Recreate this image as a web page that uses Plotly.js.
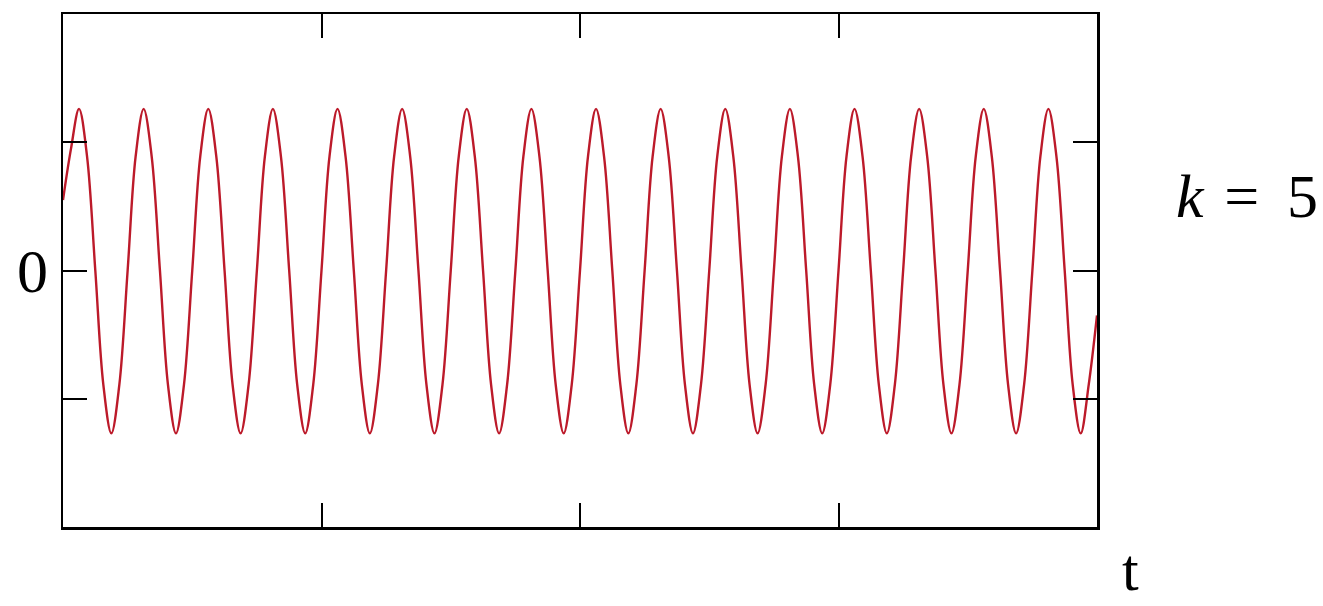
<!DOCTYPE html>
<html>
<head>
<meta charset="utf-8">
<script src="https://cdn.plot.ly/plotly-3.0.1.min.js"></script>
<style>html,body{margin:0;padding:0;background:#fff;}#chart{width:1323px;height:606px;}</style>
</head>
<body>
<div id="chart"></div>
<script>
// t samples (period ~0.25, peaks near t = 0.062 + 0.25k)
var tValues = [
  0.000, 0.031,
  0.062, 0.093, 0.125, 0.156, 0.187, 0.218, 0.250, 0.281,
  0.312, 0.343, 0.375, 0.406, 0.437, 0.468, 0.500, 0.531,
  0.562, 0.593, 0.625, 0.656, 0.687, 0.718, 0.750, 0.781,
  0.812, 0.843, 0.875, 0.906, 0.937, 0.968, 1.000, 1.031,
  1.062, 1.093, 1.125, 1.156, 1.187, 1.218, 1.250, 1.281,
  1.312, 1.343, 1.375, 1.406, 1.437, 1.468, 1.500, 1.531,
  1.562, 1.593, 1.625, 1.656, 1.687, 1.718, 1.750, 1.781,
  1.812, 1.843, 1.875, 1.906, 1.937, 1.968, 2.000, 2.031,
  2.062, 2.093, 2.125, 2.156, 2.187, 2.218, 2.250, 2.281,
  2.312, 2.343, 2.375, 2.406, 2.437, 2.468, 2.500, 2.531,
  2.562, 2.593, 2.625, 2.656, 2.687, 2.718, 2.750, 2.781,
  2.812, 2.843, 2.875, 2.906, 2.937, 2.968, 3.000, 3.031,
  3.062, 3.093, 3.125, 3.156, 3.187, 3.218, 3.250, 3.281,
  3.312, 3.343, 3.375, 3.406, 3.437, 3.468, 3.500, 3.531,
  3.562, 3.593, 3.625, 3.656, 3.687, 3.718, 3.750, 3.781,
  3.812, 3.843, 3.875, 3.906, 3.937, 3.968, 4.000
];
// signal values (y tick spacing = 1)
var signalValues = [
  0.55, 0.95,
  1.26, 0.89, 0.00, -0.89, -1.27, -0.89, 0.00, 0.89,
  1.26, 0.89, 0.00, -0.89, -1.27, -0.89, 0.00, 0.89,
  1.26, 0.89, 0.00, -0.89, -1.27, -0.89, 0.00, 0.89,
  1.26, 0.89, 0.00, -0.89, -1.27, -0.89, 0.00, 0.89,
  1.26, 0.89, 0.00, -0.89, -1.27, -0.89, 0.00, 0.89,
  1.26, 0.89, 0.00, -0.89, -1.27, -0.89, 0.00, 0.89,
  1.26, 0.89, 0.00, -0.89, -1.27, -0.89, 0.00, 0.89,
  1.26, 0.89, 0.00, -0.89, -1.27, -0.89, 0.00, 0.89,
  1.26, 0.89, 0.00, -0.89, -1.27, -0.89, 0.00, 0.89,
  1.26, 0.89, 0.00, -0.89, -1.27, -0.89, 0.00, 0.89,
  1.26, 0.89, 0.00, -0.89, -1.27, -0.89, 0.00, 0.89,
  1.26, 0.89, 0.00, -0.89, -1.27, -0.89, 0.00, 0.89,
  1.26, 0.89, 0.00, -0.89, -1.27, -0.89, 0.00, 0.89,
  1.26, 0.89, 0.00, -0.89, -1.27, -0.89, 0.00, 0.89,
  1.26, 0.89, 0.00, -0.89, -1.27, -0.89, 0.00, 0.89,
  1.26, 0.89, 0.00, -0.89, -1.27, -0.89, -0.35
];
var xTickVals = [1, 2, 3];
var xTickText = ['', '', ''];
var yTickVals = [-1, 0, 1];
var yTickText = ['', '0', ''];
var xLabel = 't';
var paramLabel = '<i>k</i>\u200A = \u20095';

var serif = 'Liberation Serif, Times New Roman, serif';
var trace = {
  x: tValues, y: signalValues, type: 'scatter', mode: 'lines',
  line: {color: 'rgb(188,26,42)', width: 2.4, shape: 'spline', smoothing: 1},
  hoverinfo: 'skip'
};
var axisCommon = {
  showgrid: false, zeroline: false, showline: true, mirror: 'ticks',
  linecolor: '#000', linewidth: 2.5, ticks: 'inside', ticklen: 24,
  tickwidth: 2, tickcolor: '#000', fixedrange: true
};
var layout = {
  width: 1323, height: 606,
  margin: {l: 63, r: 226, t: 14, b: 79},
  paper_bgcolor: '#fff', plot_bgcolor: '#fff',
  showlegend: false,
  xaxis: Object.assign({}, axisCommon, {
    range: [0, 4], tickmode: 'array', tickvals: xTickVals, ticktext: xTickText
  }),
  yaxis: Object.assign({}, axisCommon, {
    range: [-2, 2], tickmode: 'array', tickvals: yTickVals, ticktext: yTickText,
    tickfont: {family: serif, size: 62, color: '#000'}
  }),
  annotations: [
    {text: paramLabel, xref: 'paper', yref: 'paper', x: 1.145, y: 0.645,
     xanchor: 'center', yanchor: 'middle', showarrow: false,
     font: {family: serif, size: 62, color: '#000'}},
    {text: xLabel, xref: 'paper', yref: 'paper', x: 1.032, y: -0.152,
     xanchor: 'center', yanchor: 'bottom', showarrow: false,
     font: {family: serif, size: 60, color: '#000'}}
  ]
};
Plotly.newPlot('chart', [trace], layout, {displayModeBar: false, staticPlot: true});
</script>
</body>
</html>
